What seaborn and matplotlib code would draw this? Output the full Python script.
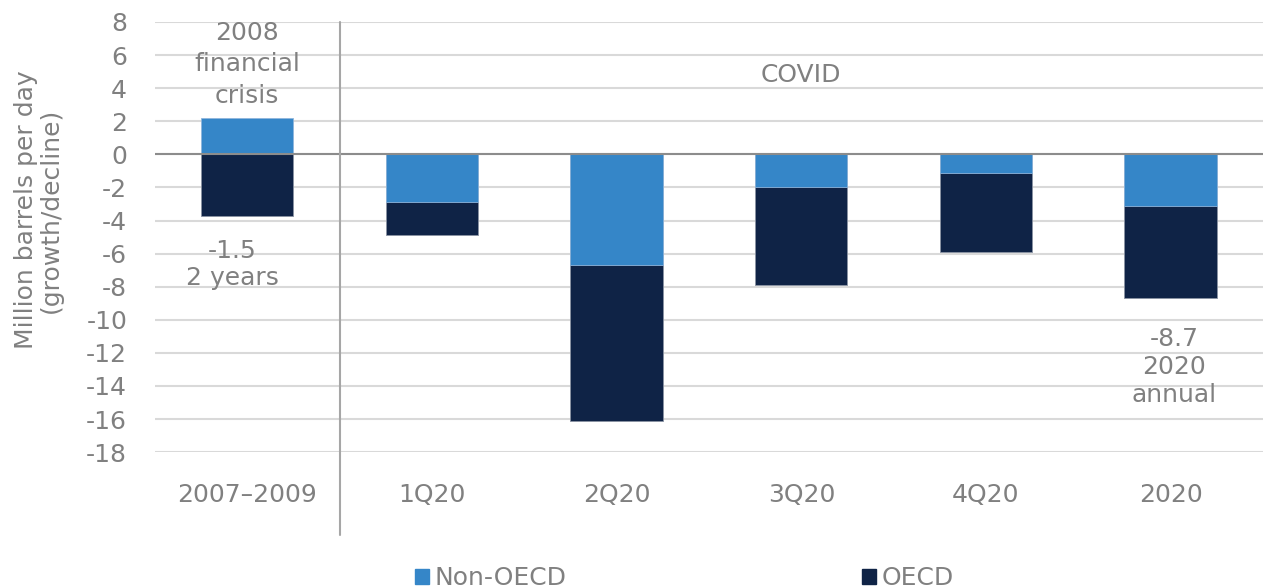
import numpy as np
import pandas as pd
import matplotlib
matplotlib.use("Agg")
import matplotlib.pyplot as plt
from matplotlib.patches import Patch
import seaborn as sns

categories = ["2007–2009", "1Q20", "2Q20", "3Q20", "4Q20", "2020"]
non_oecd = [2.2, -2.9, -6.7, -2.0, -1.1, -3.1]
oecd = [-3.7, -2.0, -9.4, -5.9, -4.8, -5.6]
y_ticks = list(range(-18, 9, 2))

NON_OECD_COLOR = "#3586c8"
OECD_COLOR = "#0f2346"
TEXT_COLOR = "#808080"
FS = 18

sns.set_theme(style="white")
plt.rcParams["font.family"] = ["DejaVu Sans"]
plt.rcParams["font.size"] = FS

df = pd.DataFrame({"category": categories, "non_oecd": non_oecd, "oecd": oecd})
# OECD stacks below the Non-OECD part when that part is negative
df["oecd_extent"] = np.minimum(df["non_oecd"], 0) + df["oecd"]

fig = plt.figure(figsize=(12.63, 5.88), dpi=100)
ax = fig.add_axes([0.1227, 0.231, 0.8773, 0.7316])

sns.barplot(data=df, x="category", y="oecd_extent", color=OECD_COLOR,
            width=0.5, saturation=1, edgecolor="#8a93a3", linewidth=0.6, ax=ax)
sns.barplot(data=df, x="category", y="non_oecd", color=NON_OECD_COLOR,
            width=0.5, saturation=1, edgecolor="#8fb6dc", linewidth=0.6, ax=ax)

ax.set_ylim(-18, 8)
ax.set_xlim(-0.5, len(categories) - 0.5)
ax.set_yticks(y_ticks)
ax.set_yticklabels([str(v) for v in y_ticks])
ax.yaxis.grid(True, color="#d9d9d9", linewidth=1.5)
ax.set_axisbelow(True)
ax.axhline(0, color="#8c8c8c", linewidth=1.5, zorder=1)
for s in ax.spines.values():
    s.set_visible(False)
ax.tick_params(axis="y", length=0, pad=20, labelcolor=TEXT_COLOR, labelsize=FS)
ax.tick_params(axis="x", length=0, pad=22, labelcolor=TEXT_COLOR, labelsize=FS)
ax.set_xlabel("")
ax.set_ylabel("Million barrels per day\n(growth/decline)", color=TEXT_COLOR,
              fontsize=FS, linespacing=1.05)
ax.yaxis.set_label_coords(-0.083, 0.563)

# separator between 2008 crisis and COVID period
ax.axvline(0.5, ymin=-0.193, ymax=1, color="#a6a6a6", linewidth=1.5, clip_on=False)

ax.text(0, 5.45, "2008\nfinancial\ncrisis", ha="center", va="center",
        color=TEXT_COLOR, fontsize=FS, linespacing=1.4)
ax.text(3, 4.8, "COVID", ha="center", va="center", color=TEXT_COLOR, fontsize=FS)
ax.text(-0.08, -6.65, "-1.5\n2 years", ha="center", va="center",
        color=TEXT_COLOR, fontsize=FS, linespacing=1.18)
ax.text(5.02, -12.85, "-8.7\n2020\nannual", ha="center", va="center",
        color=TEXT_COLOR, fontsize=FS, linespacing=1.2)

handles = [Patch(color=NON_OECD_COLOR, label="Non-OECD"),
           Patch(color=OECD_COLOR, label="OECD")]
leg = fig.legend(handles=handles, loc="center", bbox_to_anchor=(0.542, 0.017),
                 ncol=2, frameon=False, fontsize=FS, handlelength=0.55,
                 handleheight=0.55, handletextpad=0.25, columnspacing=11.8)
for t in leg.get_texts():
    t.set_color(TEXT_COLOR)

fig.savefig("out.png", dpi=100)
